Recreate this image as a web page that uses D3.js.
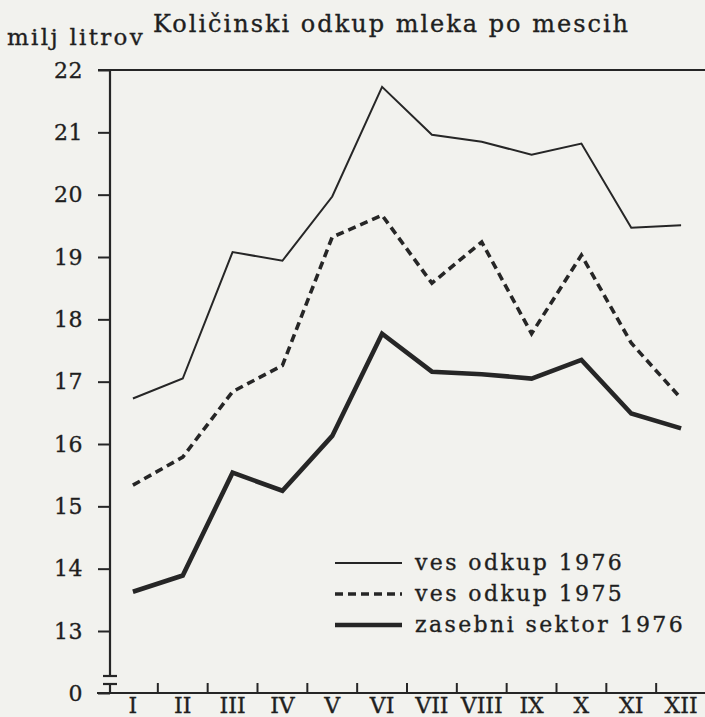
<!DOCTYPE html>
<html>
<head>
<meta charset="utf-8">
<script src="https://cdn.jsdelivr.net/npm/d3@7"></script>
<style>
  html, body { margin: 0; padding: 0; background: #f2f2ee; }
  svg { display: block; }
  text { font-family: "DejaVu Serif", serif; fill: #1f1f1f; stroke: #1f1f1f; stroke-width: 0.35px; }
</style>
</head>
<body>
<svg id="chart" width="705" height="717"></svg>
<script>
const months = ['I', 'II', 'III', 'IV', 'V', 'VI', 'VII', 'VIII', 'IX', 'X', 'XI', 'XII'];
// milj. litrov
const ves1976 = [16.73, 17.05, 19.08, 18.94, 19.97, 21.73, 20.96, 20.85, 20.64, 20.82, 19.47, 19.51];
const ves1975 = [15.34, 15.79, 16.84, 17.26, 19.32, 19.67, 18.58, 19.24, 17.77, 19.03, 17.62, 16.73];
const zasebni1976 = [13.63, 13.89, 15.54, 15.25, 16.13, 17.77, 17.16, 17.12, 17.05, 17.35, 16.49, 16.25];
const yTicks = [0, 13, 14, 15, 16, 17, 18, 19, 20, 21, 22];
const seriesNames = ['ves odkup 1976', 'ves odkup 1975', 'zasebni sektor 1976'];

const ink = '#262626';
const svg = d3.select('#chart');

// x: one band per month, points at the middle
const x = d3.scaleBand().domain(months).range([108, 706]);
// y: broken axis, 0 squeezed in under 13
const y = d3.scaleLinear()
  .domain([0, 12.28, 13, 22])
  .range([693, 676, 631, 70]);

const series = [
  { name: seriesNames[0], values: ves1976, width: 2, dash: null },
  { name: seriesNames[1], values: ves1975, width: 3.6, dash: '8,5' },
  { name: seriesNames[2], values: zasebni1976, width: 4.6, dash: null }
];

// frame lines: top at 22 and baseline at 0
svg.append('line')
  .attr('x1', 98).attr('x2', 705)
  .attr('y1', y(22)).attr('y2', y(22))
  .attr('stroke', ink).attr('stroke-width', 2.2);

svg.append('line')
  .attr('x1', 97).attr('x2', 705)
  .attr('y1', y(0)).attr('y2', y(0))
  .attr('stroke', ink).attr('stroke-width', 2.2);

// y axis
const yAxis = svg.append('g')
  .attr('transform', 'translate(110,0)')
  .call(d3.axisLeft(y).tickValues(yTicks).tickSize(12).tickPadding(15).tickFormat(d3.format('d')));

yAxis.select('.domain').remove();
yAxis.selectAll('line').attr('stroke', ink).attr('stroke-width', 2);
yAxis.selectAll('text')
  .attr('font-size', 22)
  .attr('font-family', '"DejaVu Serif", serif')
  .attr('fill', '#1f1f1f')
  .attr('letter-spacing', 0.5);

// vertical axis line with the break
svg.append('line')
  .attr('x1', 110).attr('x2', 110)
  .attr('y1', y(22)).attr('y2', y(12.28))
  .attr('stroke', ink).attr('stroke-width', 2.2);
svg.append('line')
  .attr('x1', 110).attr('x2', 110)
  .attr('y1', y(12.28) + 8).attr('y2', y(0))
  .attr('stroke', ink).attr('stroke-width', 2.2);

svg.selectAll('.brk')
  .data([0, 8])
  .enter()
  .append('line')
  .attr('class', 'brk')
  .attr('x1', 103).attr('x2', 117)
  .attr('y1', (d) => y(12.28) + d).attr('y2', (d) => y(12.28) + d)
  .attr('stroke', ink).attr('stroke-width', 2.2);

// month ticks between the bands, pointing up
svg.append('g')
  .selectAll('line')
  .data(months.slice(1))
  .enter()
  .append('line')
  .attr('x1', (d) => x(d)).attr('x2', (d) => x(d))
  .attr('y1', y(0)).attr('y2', y(0) - 10)
  .attr('stroke', ink).attr('stroke-width', 2);

// month labels
const xAxis = svg.append('g')
  .attr('transform', `translate(0,${y(0)})`)
  .call(d3.axisBottom(x).tickSize(0).tickPadding(4));
xAxis.select('.domain').remove();
xAxis.selectAll('text')
  .attr('font-size', 22)
  .attr('font-family', '"DejaVu Serif", serif')
  .attr('fill', '#1f1f1f');

// lines
const lineGen = d3.line()
  .x((d, i) => x(months[i]) + x.bandwidth() / 2)
  .y((d) => y(d));

svg.append('g')
  .selectAll('path')
  .data(series)
  .enter()
  .append('path')
  .attr('d', (d) => lineGen(d.values))
  .attr('fill', 'none')
  .attr('stroke', ink)
  .attr('stroke-width', (d) => d.width)
  .attr('stroke-dasharray', (d) => d.dash)
  .attr('stroke-linejoin', 'miter');

// legend
const legend = svg.append('g')
  .attr('transform', 'translate(335,563)');

legend.selectAll('line')
  .data(series)
  .enter()
  .append('line')
  .attr('x1', 0).attr('x2', 67)
  .attr('y1', (d, i) => i * 31).attr('y2', (d, i) => i * 31)
  .attr('stroke', ink)
  .attr('stroke-width', (d) => d.width)
  .attr('stroke-dasharray', (d) => d.dash);

legend.selectAll('text')
  .data(series)
  .enter()
  .append('text')
  .text((d) => d.name)
  .attr('x', 80)
  .attr('y', (d, i) => i * 31 + 7)
  .attr('font-size', 22)
  .attr('letter-spacing', 2.4);

// titles
svg.append('text')
  .text('milj litrov')
  .attr('x', 7)
  .attr('y', 45)
  .attr('font-size', 23)
  .attr('letter-spacing', 2.3);

svg.append('text')
  .text('Količinski odkup mleka po mescih')
  .attr('x', 153)
  .attr('y', 32)
  .attr('font-size', 24)
  .attr('letter-spacing', 2);
</script>
</body>
</html>
